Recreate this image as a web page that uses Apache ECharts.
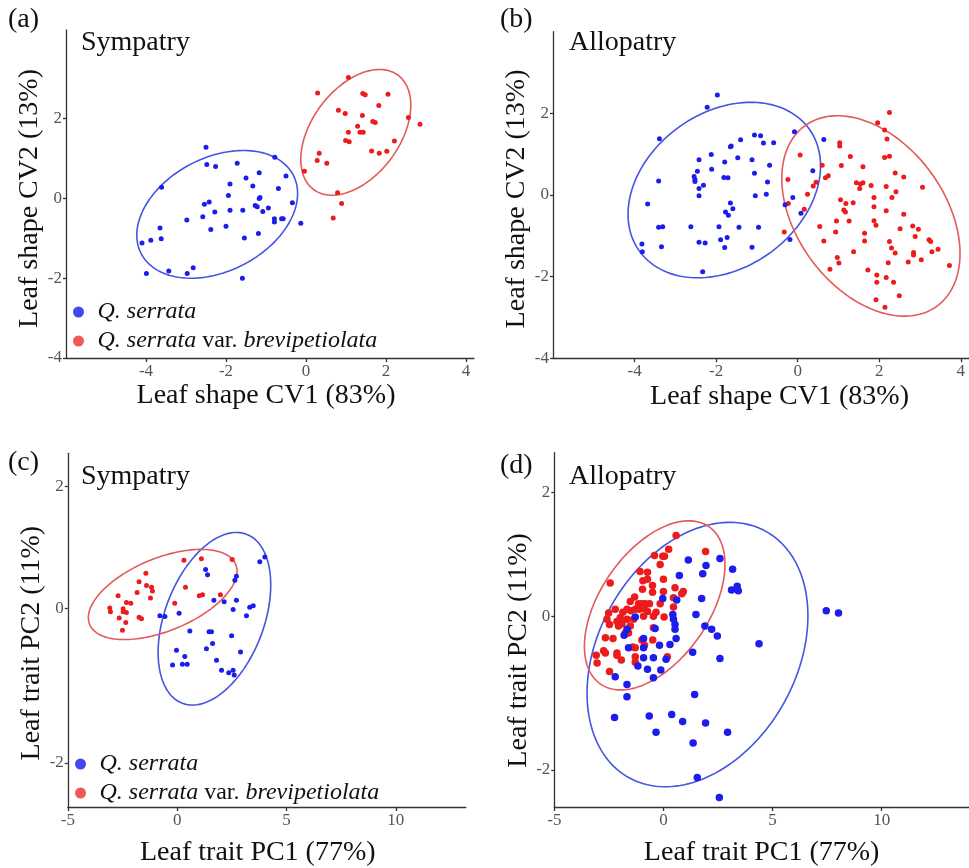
<!DOCTYPE html>
<html>
<head>
<meta charset="utf-8">
<script src="https://cdn.jsdelivr.net/npm/echarts@6/dist/echarts.min.js"></script>
<style>html,body{margin:0;padding:0;background:#fff}#chart{width:969px;height:868px}</style>
</head>
<body>
<div id="chart"></div>
<script>
// ---------- data ----------
const seriesNames = ['Q. serrata', 'Q. serrata var. brevipetiolata'];
const panelLabels = ['(a)', '(b)', '(c)', '(d)'];
const panelTitles = ['Sympatry', 'Allopatry', 'Sympatry', 'Allopatry'];
const xNames = ['Leaf shape CV1 (83%)', 'Leaf shape CV1 (83%)', 'Leaf trait PC1 (77%)', 'Leaf trait PC1 (77%)'];
const yNames = ['Leaf shape CV2 (13%)', 'Leaf shape CV2 (13%)', 'Leaf trait PC2 (11%)', 'Leaf trait PC2 (11%)'];
const xTicksCV = [-4, -2, 0, 2, 4];
const yTicksCV = [-4, -2, 0, 2];
const xTicksPC = [-5, 0, 5, 10];
const yTicksC = [-2, 0, 1.585];
const yTicksD = [-2, 0, 1.61];
const yTickLabelsPC = ['-2', '0', '2'];

const aBlue = [[-2.5,1.28],[-2.48,0.85],[-2.26,0.8],[-1.72,0.88],[-0.78,1.03],[-3.61,0.28],[-1.17,0.64],[-1.5,0.51],[-0.5,0.56],[-1.9,0.36],[-1.33,0.31],[-0.69,0.25],[-1.94,0.07],[-1.17,0],[-1.15,0.02],[-0.34,-0.11],[-2.54,-0.15],[-2.42,-0.09],[-1.27,-0.18],[-1.22,-0.21],[-0.94,-0.24],[-1.08,-0.33],[-2.28,-0.34],[-1.9,-0.3],[-1.58,-0.3],[-2.58,-0.46],[-2.98,-0.54],[-0.79,-0.51],[-0.79,-0.59],[-0.61,-0.51],[-0.57,-0.51],[-0.13,-0.62],[-2.0,-0.7],[-2.38,-0.78],[-3.65,-0.74],[-1.19,-0.88],[-3.62,-1.01],[-1.54,-0.99],[-4.1,-1.12],[-3.88,-1.05],[-3.99,-1.88],[-3.43,-1.82],[-2.97,-1.88],[-2.82,-1.74],[-1.59,-2.0]];
const aRed = [[1.06,3.03],[0.29,2.64],[1.42,2.63],[1.48,2.6],[2.05,2.61],[1.82,2.33],[0.81,2.21],[0.98,2.13],[1.41,2.08],[1.67,1.93],[1.73,1.9],[2.56,2.03],[2.85,1.86],[1.29,1.81],[1.06,1.66],[1.35,1.66],[1.43,1.66],[0.99,1.45],[1.08,1.42],[2.21,1.44],[1.64,1.19],[1.83,1.13],[2.02,1.18],[0.33,1.13],[0.28,0.95],[0.52,0.88],[-0.04,0.68],[0.79,0.14],[0.89,-0.13],[0.68,-0.49]];

const bBlue = [[-1.97,2.45],[-2.22,2.15],[-3.39,1.38],[-1.4,1.35],[-1.06,1.47],[-0.91,1.45],[-0.84,1.27],[-0.59,1.28],[-0.08,1.55],[0.64,1.36],[-2.12,0.99],[-1.65,1.18],[-1.63,1.2],[-1.47,0.91],[-2.42,0.86],[-1.79,0.81],[-1.12,0.86],[-0.69,0.73],[-2.46,0.58],[-2.11,0.63],[-3.41,0.34],[-2.54,0.45],[-2.52,0.38],[-2.52,0.33],[-2.42,0.16],[-2.31,0.24],[-1.81,0.43],[-1.71,0.42],[-1.06,0.53],[-0.74,0.32],[-0.77,0.02],[-2.42,-0.02],[-1.04,-0.02],[0.37,0.59],[-3.68,-0.22],[-1.65,-0.2],[-1.59,-0.34],[-1.77,-0.42],[-1.7,-0.5],[-0.12,-0.06],[-0.31,-0.24],[0.08,-0.45],[-2.62,-0.78],[-1.93,-0.78],[-1.44,-0.79],[-0.96,-0.79],[-3.41,-0.79],[-3.31,-0.78],[-3.82,-1.2],[-3.81,-1.39],[-3.34,-1.27],[-2.42,-1.16],[-2.27,-1.18],[-1.89,-1.1],[-1.73,-1.04],[-1.79,-1.29],[-1.12,-1.28],[-0.19,-1.09],[-2.33,-1.88]];
const bRed = [[2.25,2.02],[1.96,1.77],[2.13,1.59],[2.19,1.37],[1.03,1.28],[1.03,1.2],[2.13,0.92],[2.25,0.95],[1.29,0.94],[0.06,0.98],[0.6,0.73],[1.07,0.72],[1.6,0.69],[2.39,0.54],[2.6,0.44],[0.75,0.47],[0.68,0.42],[0.45,0.31],[0.38,0.22],[-0.24,0.38],[1.44,0.3],[1.54,0.27],[1.6,0.3],[1.52,0.16],[1.8,0.23],[2.17,0.21],[3.06,0.19],[2.41,0.08],[2.31,-0.06],[1.87,-0.06],[0.24,0.02],[1.05,-0.12],[1.87,-0.29],[1.13,-0.37],[1.17,-0.42],[1.36,-0.19],[1.18,-0.21],[-0.23,-0.21],[0.16,-0.35],[2.17,-0.39],[2.6,-0.47],[0.95,-0.64],[1.26,-0.64],[1.87,-0.63],[1.92,-0.74],[0.54,-0.77],[1.64,-0.94],[2.51,-0.83],[2.82,-0.76],[2.96,-0.84],[-0.33,-0.91],[0.93,-0.91],[0.64,-1.13],[1.64,-1.13],[2.88,-1.02],[3.22,-1.1],[3.26,-1.14],[3.44,-1.33],[3.29,-1.39],[2.25,-1.14],[2.3,-1.3],[2.39,-1.42],[1.37,-1.39],[2.84,-1.41],[2.84,-1.47],[0.97,-1.53],[1.01,-1.67],[2.71,-1.64],[3.03,-1.59],[2.22,-1.66],[0.79,-1.82],[1.72,-1.84],[1.94,-1.96],[1.94,-2.14],[2.17,-2.02],[2.35,-2.14],[3.72,-1.73],[2.49,-2.47],[1.92,-2.57],[2.14,-2.75]];

const cRed = [[0.31,0.63],[1.11,0.65],[2.52,0.64],[-1.43,0.46],[-1.74,0.35],[-1.4,0.3],[-1.17,0.28],[-1.13,0.23],[-1.83,0.21],[-2.7,0.17],[-1.22,0.14],[0.38,0.28],[-2.32,0.08],[-2.12,0.07],[-0.11,0.07],[1.01,0.17],[1.16,0.18],[1.98,0.18],[-3.08,0.01],[-3.05,-0.04],[-2.47,0.0],[-2.47,-0.04],[-2.32,-0.05],[-2.65,-0.12],[-2.35,-0.18],[-1.74,-0.11],[-1.63,-0.13],[-2.5,-0.28]];
const cBlue = [[3.78,0.61],[4.01,0.67],[1.3,0.51],[1.39,0.44],[2.71,0.42],[2.64,0.37],[1.68,0.11],[2.15,0.09],[2.71,0.11],[2.56,-0.01],[3.32,0.02],[3.48,0.04],[3.17,-0.09],[-0.79,-0.09],[-0.56,-0.1],[0.09,-0.06],[0.58,-0.29],[1.46,-0.3],[1.57,-0.3],[2.49,-0.35],[1.62,-0.45],[-0.03,-0.54],[1.34,-0.52],[2.9,-0.56],[0.35,-0.62],[-0.21,-0.73],[0.24,-0.72],[0.46,-0.72],[1.8,-0.67],[2.03,-0.8],[2.36,-0.83],[2.56,-0.8],[2.61,-0.86]];

const dRed = [[0.58,1.05],[0.24,0.87],[-0.41,0.79],[-0.03,0.78],[0.05,0.78],[-0.15,0.67],[1.93,0.84],[-1.07,0.58],[-0.73,0.57],[0.0,0.48],[-0.94,0.46],[-0.73,0.48],[-2.44,0.43],[-0.5,0.4],[-0.96,0.35],[0.0,0.32],[0.53,0.37],[0.91,0.32],[0.84,0.29],[-0.5,0.31],[0.46,0.24],[-1.32,0.25],[-1.52,0.19],[-1.14,0.16],[-0.99,0.16],[-0.84,0.16],[-0.64,0.16],[-0.15,0.16],[0.46,0.12],[-2.21,0.09],[-1.86,0.05],[-1.67,0.09],[-1.49,0.07],[-1.29,0.09],[-1.1,0.09],[-0.88,0.1],[-0.73,0.06],[-0.34,0.05],[0.03,-0.01],[-0.46,0.0],[-0.91,0.0],[-1.98,-0.02],[-1.67,-0.04],[-1.37,-0.04],[-2.59,-0.04],[-2.51,0.04],[-2.13,-0.07],[-1.9,-0.1],[-2.47,-0.11],[-2.06,-0.13],[-1.52,-0.13],[-0.46,-0.15],[-1.75,-0.22],[-1.6,-0.22],[-2.66,-0.28],[-2.31,-0.29],[-0.99,-0.31],[-0.49,-0.31],[-1.4,-0.4],[-1.29,-0.41],[-0.87,-0.38],[-2.74,-0.45],[-2.66,-0.48],[-2.13,-0.48],[-3.08,-0.51],[-2.13,-0.51],[-1.29,-0.53],[-1.93,-0.57],[-3.04,-0.61],[-1.29,-0.6],[0.18,-0.53],[-2.47,-0.72]];
const dBlue = [[1.14,0.73],[1.95,0.66],[2.59,0.75],[0.73,0.53],[1.8,0.55],[-0.03,0.23],[0.61,0.21],[1.75,0.23],[1.49,0.02],[0.43,0.02],[0.46,-0.04],[0.53,-0.11],[0.53,-0.17],[-1.29,-0.01],[-1.67,-0.17],[-0.38,-0.16],[-1.8,-0.25],[-0.91,-0.29],[0.58,-0.29],[0.3,-0.37],[-0.18,-0.38],[-1.6,-0.41],[-0.91,-0.41],[1.9,-0.13],[2.21,-0.17],[2.47,-0.26],[1.34,-0.47],[-0.46,-0.54],[-0.91,-0.54],[-1.17,-0.65],[-0.73,-0.69],[-0.12,-0.7],[0.12,-0.56],[2.59,-0.55],[-2.21,-0.79],[-0.46,-0.8],[-1.67,-0.89],[3.17,0.61],[3.12,0.34],[3.38,0.39],[3.43,0.33],[4.38,-0.36],[-1.67,-1.05],[1.43,-1.02],[-2.24,-1.32],[-0.65,-1.3],[0.38,-1.28],[0.88,-1.37],[1.93,-1.39],[-0.34,-1.51],[2.94,-1.51],[1.36,-1.65],[1.55,-2.1],[2.56,-2.36],[7.46,0.07],[8.02,0.04]];

// ellipse parameters: [centerX, centerY, halfWidth, halfHeight, phaseDeg]
const aBlueEllipse = [-2.22, -0.4, 2.01, 1.6, 71];
const aRedEllipse = [1.245, 1.655, 1.375, 1.575, 64.5];
const bBlueEllipse = [-1.8, 0.12, 2.36, 2.15, 74];
const bRedEllipse = [1.795, -0.515, 2.185, 2.455, 112];
const cBlueEllipse = [1.705, -0.13, 2.575, 1.12, 67];
const cRedEllipse = [-0.66, 0.185, 3.4, 0.585, 59];
const dBlueEllipse = [1.56, -0.5, 5.06, 1.72, 73];
const dRedEllipse = [-0.4, 0.14, 3.22, 1.1, 61];

// ---------- styles ----------
const FONT = '"Liberation Serif", "Times New Roman", Times, serif';
const BLUE = '#1c1cec';
const RED = '#ec1c1c';
const BLUE_E = '#4455e0';
const RED_E = '#e35a5a';

const chart = echarts.init(document.getElementById('chart'), null, { renderer: 'canvas' });

const grids = [
  { left: 66, top: 30, width: 408, height: 328 },
  { left: 553, top: 31.7, width: 419, height: 326.5 },
  { left: 67.8, top: 453.3, width: 398, height: 355 },
  { left: 554.3, top: 452.7, width: 416.2, height: 355.6 }
];
const xRanges = [[-6, 4.2], [-6, 4.2], [-5, 13.2], [-5, 14]];
const yRanges = [[-4, 4.22], [-4, 4.0], [-2.573, 2.017], [-2.483, 2.126]];
const xTickSets = [xTicksCV, xTicksCV, xTicksPC, xTicksPC];
const yTickSets = [yTicksCV, yTicksCV, yTicksC, yTicksD];
const xNameGap = [24, 24, 32, 32];
const xNamePad = [[0,8,0,0], [0,0,0,37], [0,18,0,0], [0,0,0,0]];
const yNamePad = [[0,9,0,0], [0,8,0,0], [0,26,0,0], [0,41,0,0]];

const axisLineStyle = { color: '#333', width: 1.3 };
const labelStyle = { fontFamily: FONT, fontSize: 17, color: '#555' };
const nameStyle = { fontFamily: FONT, fontSize: 28, color: '#111' };

const xAxes = grids.map((g, i) => ({
  type: 'value', gridIndex: i, min: xRanges[i][0], max: xRanges[i][1],
  name: xNames[i], nameLocation: 'middle', nameGap: xNameGap[i],
  nameTextStyle: Object.assign({ padding: xNamePad[i] }, nameStyle),
  axisLine: { show: true, onZero: false, lineStyle: axisLineStyle },
  axisTick: { show: true, length: 4, customValues: xTickSets[i], lineStyle: axisLineStyle },
  axisLabel: Object.assign({ customValues: xTickSets[i], margin: 5, formatter: v => String(v) }, labelStyle),
  splitLine: { show: false }
}));
const yAxes = grids.map((g, i) => ({
  type: 'value', gridIndex: i, min: yRanges[i][0], max: yRanges[i][1],
  name: yNames[i], nameLocation: 'middle', nameGap: 19,
  nameTextStyle: Object.assign({ padding: yNamePad[i] }, nameStyle),
  axisLine: { show: true, onZero: false, lineStyle: axisLineStyle },
  axisTick: { show: true, length: 3, customValues: yTickSets[i], lineStyle: axisLineStyle },
  axisLabel: Object.assign({
    customValues: yTickSets[i], margin: 4,
    formatter: i < 2 ? (v => String(v)) : (v => yTickLabelsPC[yTickSets[i].indexOf(v)] ?? String(v))
  }, labelStyle),
  splitLine: { show: false }
}));

function ellipseRender(params, api) {
  const cx = api.value(0), cy = api.value(1), rx = api.value(2), ry = api.value(3);
  const ph = api.value(4) * Math.PI / 180;
  const pts = [];
  const N = 160;
  for (let k = 0; k <= N; k++) {
    const t = k / N * 2 * Math.PI;
    pts.push(api.coord([cx + rx * Math.cos(t), cy + ry * Math.cos(t - ph)]));
  }
  return { type: 'polyline', shape: { points: pts }, style: { stroke: api.visual('color'), fill: null, lineWidth: 1.6 } };
}

const pointSets = [[aBlue, aRed], [bBlue, bRed], [cBlue, cRed], [dBlue, dRed]];
const ellipseSets = [[aBlueEllipse, aRedEllipse], [bBlueEllipse, bRedEllipse], [cBlueEllipse, cRedEllipse], [dBlueEllipse, dRedEllipse]];
const symbolSizes = [5, 5, 5, 7.5];

const series = [];
for (let i = 0; i < 4; i++) {
  // ellipses
  series.push({ type: 'custom', name: seriesNames[0], xAxisIndex: i, yAxisIndex: i, renderItem: ellipseRender,
    itemStyle: { color: BLUE_E }, data: [ellipseSets[i][0]], silent: true, z: 1 });
  series.push({ type: 'custom', name: seriesNames[1], xAxisIndex: i, yAxisIndex: i, renderItem: ellipseRender,
    itemStyle: { color: RED_E }, data: [ellipseSets[i][1]], silent: true, z: 1 });
  // points (red first, blue on top)
  series.push({ type: 'scatter', name: seriesNames[1], xAxisIndex: i, yAxisIndex: i, data: pointSets[i][1],
    symbol: 'circle', symbolSize: symbolSizes[i], itemStyle: { color: RED, opacity: 1 }, z: 2 });
  series.push({ type: 'scatter', name: seriesNames[0], xAxisIndex: i, yAxisIndex: i, data: pointSets[i][0],
    symbol: 'circle', symbolSize: symbolSizes[i], itemStyle: { color: BLUE, opacity: 1 }, z: 3 });
}

const legendCommon = {
  orient: 'vertical', icon: 'circle', itemWidth: 28, itemHeight: 11, itemGap: 5, padding: 0,
  data: [
    { name: seriesNames[0], itemStyle: { color: '#4646f0' } },
    { name: seriesNames[1], itemStyle: { color: '#f05858' } }
  ],
  formatter: function (name) {
    return name === seriesNames[0] ? '{i|Q. serrata}' : '{i|Q. serrata}{r| var. }{i|brevipetiolata}';
  },
  textStyle: {
    fontFamily: FONT, fontSize: 24, color: '#111',
    rich: {
      i: { fontFamily: FONT, fontSize: 24, fontStyle: 'italic', color: '#111' },
      r: { fontFamily: FONT, fontSize: 24, color: '#111' }
    }
  }
};

const titleStyle = { fontFamily: FONT, fontSize: 28, fontWeight: 'normal', color: '#111' };
const titlePos = [
  { left: 8, top: 6 }, { left: 500, top: 6 }, { left: 8, top: 449 }, { left: 500, top: 452 }
];
const subPos = [
  { left: 81, top: 29 }, { left: 569, top: 29 }, { left: 81, top: 463 }, { left: 569, top: 463 }
];
const titles = [];
for (let i = 0; i < 4; i++) {
  titles.push(Object.assign({ text: panelLabels[i], padding: 0, textStyle: titleStyle }, titlePos[i]));
  titles.push(Object.assign({ text: panelTitles[i], padding: 0, textStyle: titleStyle }, subPos[i]));
}

chart.setOption({
  backgroundColor: '#ffffff',
  animation: false,
  title: titles,
  legend: [
    Object.assign({ left: 73, top: 300 }, legendCommon),
    Object.assign({ left: 75, top: 752 }, legendCommon)
  ],
  grid: grids,
  xAxis: xAxes,
  yAxis: yAxes,
  series: series
});
</script>
</body>
</html>
